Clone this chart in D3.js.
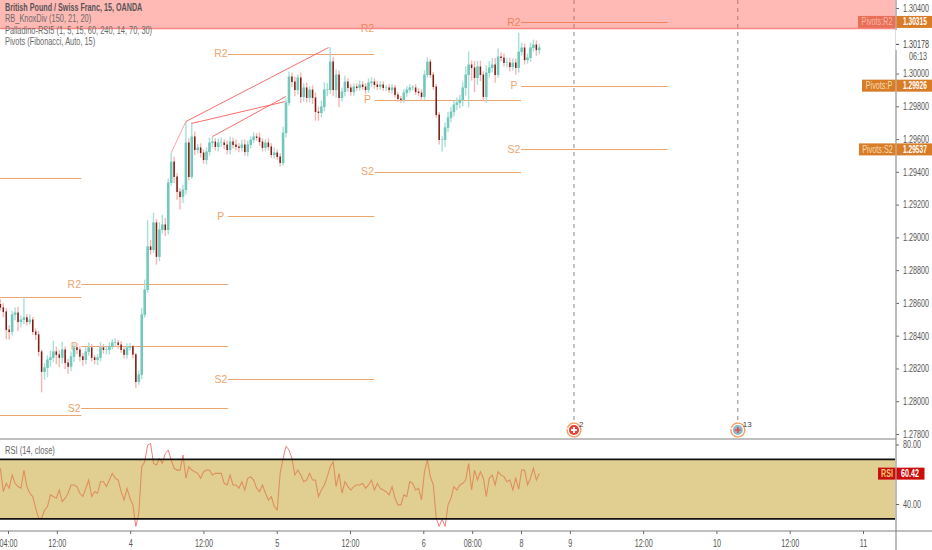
<!DOCTYPE html>
<html><head><meta charset="utf-8">
<style>html,body{margin:0;padding:0;background:#fff;overflow:hidden}svg{display:block}text{font-family:"Liberation Sans",Arial,sans-serif}</style>
<script src="https://cdn.jsdelivr.net/npm/d3@7"></script></head><body><svg id="c" width="932" height="550"></svg>
<script>
const closes=[1.28573,1.28548,1.28438,1.28426,1.28530,1.28542,1.28487,1.28499,1.28512,1.28487,1.28499,1.28426,1.28408,1.28304,1.28182,1.28207,1.28255,1.28268,1.28304,1.28286,1.28268,1.28316,1.28237,1.28213,1.28274,1.28329,1.28316,1.28274,1.28255,1.28304,1.28329,1.28268,1.28255,1.28268,1.28329,1.28316,1.28316,1.28335,1.28359,1.28359,1.28347,1.28316,1.28286,1.28329,1.28335,1.28286,1.28121,1.28164,1.28530,1.28682,
1.28945,1.28926,1.29091,1.28884,1.29048,1.29079,1.29048,1.29335,1.29463,1.29372,1.29280,1.29250,1.29292,1.29579,1.29372,1.29616,1.29536,1.29549,1.29518,1.29475,1.29524,1.29579,1.29585,1.29555,1.29579,1.29579,1.29567,1.29536,1.29585,1.29567,1.29555,1.29549,1.29567,1.29524,1.29567,1.29597,1.29616,1.29610,1.29585,1.29549,1.29579,1.29555,1.29506,1.29518,1.29494,1.29457,1.29640,1.29823,1.29982,1.29951,1.29902,1.29976,1.29860,1.29915,1.29854,1.29902,1.29854,1.29768,1.29762,1.29799,1.29902,1.29902,1.30073,1.29902,1.29994,1.29854,
1.29890,1.29951,1.29915,1.29890,1.29921,1.29915,1.29933,1.29921,1.29902,1.29945,1.29951,1.29933,1.29921,1.29933,1.29915,1.29915,1.29902,1.29915,1.29872,1.29848,1.29841,1.29884,1.29902,1.29915,1.29915,1.29890,1.29884,1.29860,1.29994,1.30073,1.29994,1.29921,1.29750,1.29597,1.29597,1.29671,1.29732,1.29768,1.29811,1.29823,1.29841,1.29915,1.29994,1.30055,1.30037,1.29976,1.30043,1.29994,1.29860,1.30006,1.30037,1.30055,1.29994,1.30104,1.30098,1.30067,1.30067,1.30043,1.30067,1.30037,1.30134,1.30159,1.30085,1.30098,1.30159,1.30177,1.30146,1.30159];
const upperWicks=[30,25,20,25,20,30,35,25,125,20,30,15,20,20,10,25,25,40,65,30,25,45,20,20,30,30,25,20,20,25,30,20,15,20,30,20,20,25,20,25,15,20,20,25,20,10,10,25,40,60,
160,40,60,20,45,60,40,25,55,30,20,20,30,128,25,85,30,20,25,20,25,30,30,20,25,30,20,25,30,25,30,20,30,30,25,20,25,20,30,20,20,25,20,30,20,20,35,25,30,25,30,20,30,25,30,20,25,30,30,35,45,40,88,30,30,25,
25,35,20,20,20,20,25,20,20,25,25,20,20,20,20,15,20,20,15,15,15,20,20,20,15,20,20,20,25,25,15,15,15,15,20,30,35,30,25,30,30,35,50,80,25,40,35,35,20,45,40,40,40,50,25,25,30,30,25,25,115,30,25,25,30,30,25,20];
const lowerWicks=[20,35,60,50,25,35,60,35,30,25,20,20,35,30,128,50,60,45,30,60,60,40,40,45,30,35,30,30,40,30,25,25,30,35,25,25,30,30,20,20,25,20,25,25,20,25,40,20,30,20,
20,30,20,50,30,25,40,30,20,40,50,80,40,30,25,15,35,25,30,25,30,25,30,25,30,25,30,30,30,25,25,30,25,25,30,25,20,20,25,25,25,25,20,25,20,25,20,30,20,35,40,30,40,30,30,30,40,55,50,30,30,40,25,40,50,60,
25,30,25,25,25,20,20,20,25,20,25,25,20,20,20,20,20,25,20,20,20,20,25,20,20,20,20,25,20,20,20,20,20,30,75,45,30,30,30,35,35,40,50,200,80,90,45,40,30,40,30,30,50,20,25,25,30,30,25,45,30,25,30,25,25,25,40,30];
const rsiValues=[64,48.3,53.9,50.6,59.5,53.9,51.7,50.6,62.8,51.7,47.2,45,37.2,30.4,30.4,36,38.3,46.1,45,43.9,49.4,41.6,43.9,47.2,52.8,52.8,51.7,47.2,45,50.6,56.1,45,48.3,47.2,55,55,51.7,56.1,60.6,57.3,56.1,48.3,42.7,50.6,43.9,39.4,24.9,33.8,65.1,68.4,79.6,80.7,67.3,66.2,70.7,67.3,74,76.3,69.6,64,62.8,62.8,72.9,57.3,65.1,62.8,61.7,60.6,57.3,61.7,62.8,62.8,59.5,60.6,60.6,60.6,53.9,52.8,59.5,52.8,52.8,50.6,55,49.4,57.3,58.4,56.1,50.6,48.3,52.8,47.2,42.7,45,38.3,36,60.6,70.7,78.9,76.3,70.7,59.5,62.8,59.5,55,56.1,
60.6,56.1,56.1,45,49.4,52.8,58.4,65.1,68.4,51.7,60.6,47.2,55,51.7,49.4,51.7,52.8,52.8,53.9,50.6,52.8,56.1,49.4,53.9,50.6,49.4,48.3,46.1,51.7,43.9,39.4,39.4,46.1,45,55,53.9,49.4,50.6,42.7,61.7,69.6,58.4,52.8,30.4,24.9,29.8,24.9,39.4,43.9,51.7,49.4,52.8,53.9,56.1,67.3,49.4,62.8,56.1,61.7,57.3,45,57.3,59.5,52.8,61.7,59.5,58.4,55,56.1,49.4,57.3,49.9,62.8,62.8,52.8,57.3,64,56.1,60.6];
const firstBar=-5, lastBar=348;
const pivotBreaks=[-6,48,144,240,336,432];
const pivotR2=[1.29360,1.28713,1.30122,1.30275,1.30315];
const pivotP=[1.28634,1.28335,1.29128,1.29841,1.29926];
const pivotS2=[1.27914,1.27957,1.28133,1.29402,1.29537];
const divergenceLines=[[[107,1.29518],[116.5,1.29707]],[[116.5,1.29707],[210,1.30159]],[[120,1.29695],[181.5,1.29829]],[[134,1.29616],[182,1.29860]]];
const priceTicks=[1.304,1.300,1.298,1.296,1.294,1.292,1.290,1.288,1.286,1.284,1.282,1.280,1.278];
const rsiTicks=[80,40];
const timeTickBars=[0,32,80,128,176,224,272,304,336,368,416,464,512,560];
const timeTickLabels=["04:00","12:00","4","12:00","5","12:00","6","08:00","8","9","12:00","10","12:00","11"];
const eventBars=[370.7,478];
const eventCounts=["2","13"];
const legendLines=["British Pound / Swiss Franc, 15, OANDA","RB_KnoxDiv (150, 21, 20)","Palladino-RSI5 (1, 5, 15, 60, 240, 14, 70, 30)","Pivots (Fibonacci, Auto, 15)"];
const lastPrice=1.30178, countdown="06:13", rsiLast=60.42;

const W=932,H=550,axisX=896,paneSep=439,timeY=531;
const svg=d3.select("#c");
const x=d3.scaleLinear().domain([0,560]).range([8,863]);
const y=d3.scaleLinear().domain([1.304,1.278]).range([8,434]);
const r=d3.scaleLinear().domain([80,40]).range([444.5,504]);
const fmt=d3.format(".5f");
const step=(lastBar-firstBar)/(closes.length-1);
const barX=i=>x(firstBar+i*step);
const squeeze=(sel,k)=>sel.each(function(){const tx=+(this.getAttribute("x")||0);d3.select(this).attr("transform",`translate(${tx*(1-k)},0) scale(${k},1)`)});
const crisp=v=>Math.round(v)+0.5;
const defs=svg.append("defs");
defs.append("clipPath").attr("id","pm").append("rect").attr("width",axisX-1).attr("height",paneSep);
defs.append("clipPath").attr("id","rin").append("rect").attr("y",r(70)).attr("width",axisX).attr("height",r(30)-r(70));
const rout=defs.append("clipPath").attr("id","rout");
rout.append("rect").attr("y",r(70)-30).attr("width",axisX).attr("height",30);
rout.append("rect").attr("y",r(30)).attr("width",axisX).attr("height",30);

const main=svg.append("g").attr("clip-path","url(#pm)");
// pivots
const pivotCol="#eda56e";
[["R2",pivotR2],["P",pivotP],["S2",pivotS2]].forEach(([name,vals])=>{
  vals.forEach((v,i)=>{
    main.append("line").attr("x1",x(pivotBreaks[i])).attr("x2",x(pivotBreaks[i+1])).attr("y1",crisp(y(v))).attr("y2",crisp(y(v))).attr("stroke",pivotCol).attr("stroke-width",1.2);
    if(i>0) main.append("text").attr("x",x(pivotBreaks[i])-7).attr("y",y(v)+3.8).attr("text-anchor","middle").attr("font-size",10.5).attr("fill",pivotCol).text(name);
  });
});
// event lines
eventBars.forEach(b=>{
  main.append("line").attr("x1",x(b)).attr("x2",x(b)).attr("y1",0).attr("y2",421).attr("stroke","#8a8a8a").attr("stroke-dasharray","4 4").attr("stroke-width",1);
});
// candles
closes.forEach((c,i)=>{
  const o=i?closes[i-1]:c+0.0002, up=c>=o, X=barX(i);
  const hi=Math.max(o,c)+upperWicks[i]*1e-5, lo=Math.min(o,c)-lowerWicks[i]*1e-5;
  main.append("line").attr("x1",X).attr("x2",X).attr("y1",y(hi)).attr("y2",y(lo)).attr("stroke",up?"#a6e0d7":"#f8b4b2").attr("stroke-width",1.4);
  main.append("line").attr("x1",X).attr("x2",X).attr("y1",y(Math.max(o,c))).attr("y2",y(Math.min(o,c))+0.5).attr("stroke",up?"#72c9bb":"#7a1c12").attr("stroke-width",up?2.6:1.5);
});
// divergence
const dl=d3.line().x(d=>x(d[0])).y(d=>y(d[1]));
divergenceLines.forEach((l,i)=>main.append("path").attr("d",dl(l)).attr("fill","none").attr("stroke",i==0?"#f9a5a3":"#f76f6d").attr("stroke-width",1));
// alert band
main.append("rect").attr("x",0).attr("width",axisX).attr("y",-2).attr("height",y(pivotR2[3])+2).attr("fill","rgba(255,82,70,.4)");
main.append("line").attr("x1",0).attr("x2",axisX).attr("y1",y(pivotR2[3])).attr("y2",y(pivotR2[3])).attr("stroke","#fa8480").attr("stroke-width",1.3);

// events icons
eventBars.forEach((b,i)=>{
  const g=svg.append("g").attr("transform",`translate(${x(b)},430)`);
  g.append("circle").attr("r",8).attr("fill","#fff");
  g.append("path").attr("d",d3.arc().innerRadius(6.2).outerRadius(7.6).startAngle(-0.4*Math.PI).endAngle(1.55*Math.PI)()).attr("fill","#f0a060");
  g.append("circle").attr("r",5).attr("fill",i==0?"#ee3b36":"#8fb8c8");
  g.append("path").attr("d","M-3,0H3M0,-3V3").attr("stroke",i==0?"#fff":"#e0504c").attr("stroke-width",i==0?2:1.6);
  svg.append("text").attr("x",x(b)+5).attr("y",427).attr("font-size",8).attr("fill","#444").text(eventCounts[i]);
});

// legend
legendLines.forEach((t,i)=>svg.append("text").attr("x",5).attr("y",[14,25.5,37,48][i]-3).attr("font-size",10.5).attr("font-weight",i==0?"bold":"normal").attr("fill",i==0?"#555":"#6a6a6a").text(t).call(squeeze,i==0?0.685:0.707));

// price axis
const yAxis=svg.append("g").attr("transform",`translate(${axisX},0)`).call(d3.axisRight(y).tickValues(priceTicks).tickFormat(fmt).tickSize(3).tickPadding(4));
yAxis.select(".domain").remove();
yAxis.selectAll("line").attr("stroke","#666");
yAxis.selectAll("text").attr("font-size",10).attr("fill","#555").attr("font-family","Liberation Sans").attr("dy","0.33em").call(squeeze,0.72);
svg.append("line").attr("x1",axisX).attr("x2",axisX).attr("y1",0).attr("y2",H).attr("stroke","#909090").attr("stroke-width",1.2);
// last price tag
svg.append("rect").attr("x",axisX-0.5).attr("y",30).attr("width",36).attr("height",20).attr("fill","#fff");
svg.append("line").attr("x1",axisX).attr("x2",axisX+3).attr("y1",y(lastPrice)).attr("y2",y(lastPrice)).attr("stroke","#444");
svg.append("text").attr("x",903).attr("y",y(lastPrice)+3.5).attr("font-size",10).attr("fill","#444").text(fmt(lastPrice)).call(squeeze,0.72);
svg.append("text").attr("x",927).attr("y",60).attr("text-anchor","end").attr("font-size",10).attr("fill","#555").text(countdown).call(squeeze,0.72);
// pivot tags
[["Pivots:R2",pivotR2[4],"#e96f57","#f6b8a8",858],["Pivots:P",pivotP[4],"#d97c27","#f6dcb5",862],["Pivots:S2",pivotS2[4],"#d97c27","#f6dcb5",859]].forEach(([n,v,bg,fg,x0])=>{
  const Y=y(v);
  svg.append("rect").attr("x",x0).attr("y",Y-6).attr("width",axisX-x0-0.5).attr("height",12).attr("fill",bg);
  svg.append("text").attr("x",(x0+axisX)/2).attr("y",Y+3.5).attr("text-anchor","middle").attr("font-size",10).attr("fill",fg).text(n).call(squeeze,0.72);
  svg.append("rect").attr("x",axisX+0.5).attr("y",Y-6).attr("width",36).attr("height",12).attr("fill","#d97c27");
  svg.append("text").attr("x",903).attr("y",Y+3.5).attr("font-size",10).attr("font-weight","bold").attr("fill","#fff").text(fmt(v)).call(squeeze,0.66);
});

// separators
svg.append("line").attr("x1",0).attr("x2",axisX).attr("y1",paneSep).attr("y2",paneSep).attr("stroke","#808080").attr("stroke-width",1.2);
svg.append("line").attr("x1",0).attr("x2",W).attr("y1",timeY).attr("y2",timeY).attr("stroke","#808080").attr("stroke-width",1.2);

// RSI pane
svg.append("text").attr("x",5).attr("y",454).attr("font-size",10.5).attr("fill","#666").text("RSI (14, close)").call(squeeze,0.72);
svg.append("rect").attr("x",0).attr("width",axisX-1).attr("y",r(70)).attr("height",r(30)-r(70)).attr("fill","#e1cf92");
const rsiLine=d3.line().x((d,i)=>x(firstBar+i*(lastBar-firstBar)/(rsiValues.length-1))).y(d=>r(d));
svg.append("g").attr("clip-path","url(#rout)").append("path").attr("d",rsiLine(rsiValues)).attr("fill","none").attr("stroke","#f27d7d").attr("stroke-width",1);
svg.append("g").attr("clip-path","url(#rin)").append("path").attr("d",rsiLine(rsiValues)).attr("fill","none").attr("stroke","#df8f5c").attr("stroke-width",1.1);
[70,30].forEach(v=>svg.append("line").attr("x1",0).attr("x2",axisX-1).attr("y1",r(v)).attr("y2",r(v)).attr("stroke","#111").attr("stroke-width",1.8));
const rAxis=svg.append("g").attr("transform",`translate(${axisX},0)`).call(d3.axisRight(r).tickValues(rsiTicks).tickFormat(d3.format(".2f")).tickSize(3).tickPadding(4));
rAxis.select(".domain").remove();
rAxis.selectAll("line").attr("stroke","#666");
rAxis.selectAll("text").attr("font-size",10).attr("fill","#555").attr("font-family","Liberation Sans").attr("dy","0.33em").call(squeeze,0.72);
const rY=r(rsiLast);
svg.append("rect").attr("x",878).attr("y",rY-6).attr("width",17.5).attr("height",12).attr("fill","#c80f0f");
svg.append("text").attr("x",887).attr("y",rY+3.5).attr("text-anchor","middle").attr("font-size",10).attr("font-weight","bold").attr("fill","#efc66a").text("RSI").call(squeeze,0.72);
svg.append("rect").attr("x",axisX+0.5).attr("y",rY-6).attr("width",28).attr("height",12).attr("fill","#cc0b0b");
svg.append("text").attr("x",901).attr("y",rY+3.5).attr("font-size",10).attr("font-weight","bold").attr("fill","#fff").text(rsiLast.toFixed(2)).call(squeeze,0.72);

// time axis
const xAxis=svg.append("g").attr("transform",`translate(0,${timeY})`).call(d3.axisBottom(x).tickValues(timeTickBars).tickFormat((d,i)=>timeTickLabels[i]).tickSize(3).tickPadding(6));
xAxis.select(".domain").remove();
xAxis.selectAll("line").attr("stroke","#666");
xAxis.selectAll("text").attr("font-size",10).attr("fill","#555").attr("font-family","Liberation Sans").call(squeeze,0.72);
</script></body></html>
